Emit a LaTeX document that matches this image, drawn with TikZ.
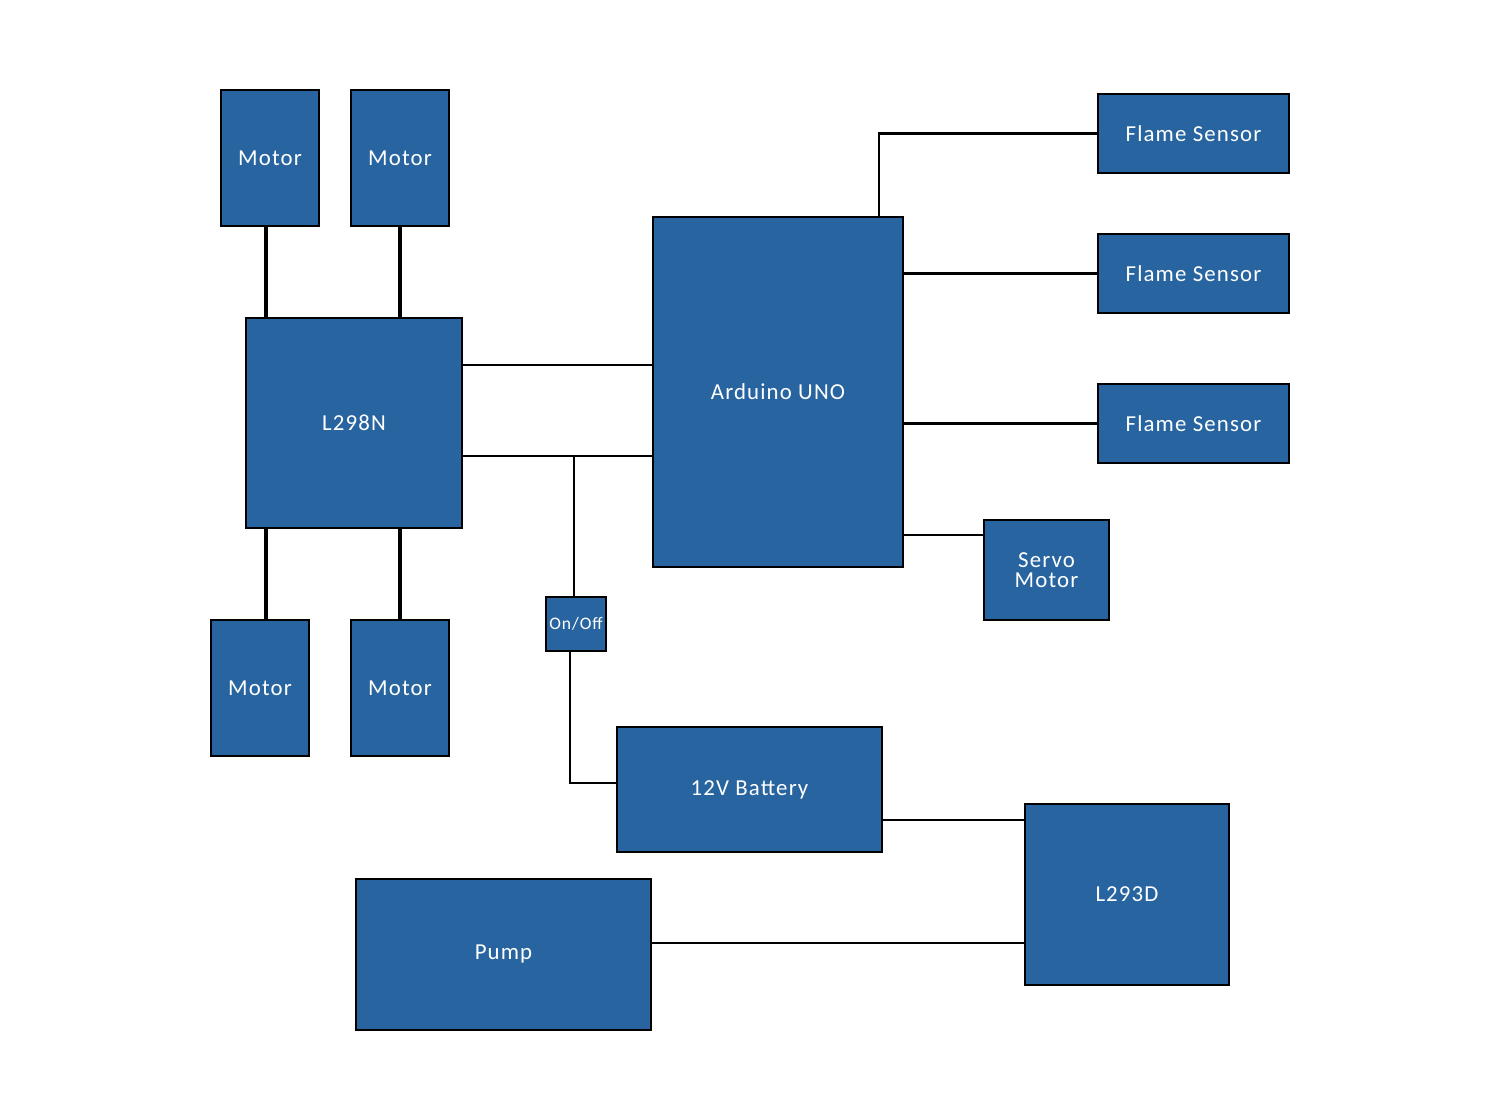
\documentclass[tikz,border=0pt]{standalone}
\usepackage{fontspec}
\setmainfont{Carlito}[LetterSpace=5]
\definecolor{blockblue}{RGB}{40,101,160}
\tikzset{
  block/.style={draw=black,line width=0.6pt,fill=blockblue,text=white,
    inner sep=0pt,align=center,font=\fontsize{13}{11.5}\selectfont},
  wire/.style={line width=1.6pt},
  motorwire/.style={line width=2.2pt},
}
\begin{document}
\begin{tikzpicture}[x=0.2mm,y=-0.2mm]
  \useasboundingbox (0,0) rectangle (1500,1119);
  \node[block,minimum width=19.6mm,minimum height=27.2mm] (motorA) at (270,158) {Motor};
  \node[block,minimum width=19.6mm,minimum height=27.2mm] (motorB) at (400,158) {Motor};
  \node[block,minimum width=19.6mm,minimum height=27.2mm] (motorC) at (260,688) {Motor};
  \node[block,minimum width=19.6mm,minimum height=27.2mm] (motorD) at (400,688) {Motor};
  \node[block,minimum width=43.2mm,minimum height=42mm] (l298n) at (354,423) {L298N};
  \node[block,minimum width=50mm,minimum height=70mm] (arduino) at (778,392) {Arduino UNO};
  \node[block,minimum width=38.2mm,minimum height=15.8mm] (flameA) at (1193.5,133.5) {Flame Sensor};
  \node[block,minimum width=38.2mm,minimum height=15.8mm] (flameB) at (1193.5,273.5) {Flame Sensor};
  \node[block,minimum width=38.2mm,minimum height=15.8mm] (flameC) at (1193.5,423.5) {Flame Sensor};
  \node[block,minimum width=25mm,minimum height=20mm] (servo) at (1046.5,570) {Servo\\Motor};
  \node[block,minimum width=12mm,minimum height=10.8mm,font=\fontsize{10}{10}\selectfont] (onoff) at (576,624) {On/Off};
  \node[block,minimum width=53mm,minimum height=25mm] (battery) at (749.5,789.5) {12V Battery};
  \node[block,minimum width=40.8mm,minimum height=36.2mm] (l293d) at (1127,894.5) {L293D};
  \node[block,minimum width=59mm,minimum height=30.2mm] (pump) at (503.5,954.5) {Pump};
  \coordinate (jn) at (574,456);
  \coordinate (corner) at (570,783);
  \draw[motorwire] (motorA.south -| 266,0) -- (l298n.north -| 266,0);
  \draw[motorwire] (motorB.south) -- (l298n.north -| motorB.south);
  \draw[motorwire] (l298n.south -| 266,0) -- (motorC.north -| 266,0);
  \draw[motorwire] (l298n.south -| motorD.north) -- (motorD.north);
  \draw[wire] (l298n.east |- 0,365) -- (arduino.west |- 0,365);
  \draw[wire] (l298n.east |- jn) -- (jn) -- (arduino.west |- jn);
  \draw[wire] (jn) -- (onoff.north -| jn);
  \draw[wire] (onoff.south -| corner) -- (corner) -- (battery.west |- corner);
  \draw[wire] (arduino.north -| 879,0) |- (flameA.west);
  \draw[wire] (arduino.east |- flameB.west) -- (flameB.west);
  \draw[wire] (arduino.east |- flameC.west) -- (flameC.west);
  \draw[wire] (arduino.east |- 0,535) -- (servo.west |- 0,535);
  \draw[wire] (battery.east |- 0,820) -- (l293d.west |- 0,820);
  \draw[wire] (pump.east |- 0,943) -- (l293d.west |- 0,943);
\end{tikzpicture}
\end{document}
